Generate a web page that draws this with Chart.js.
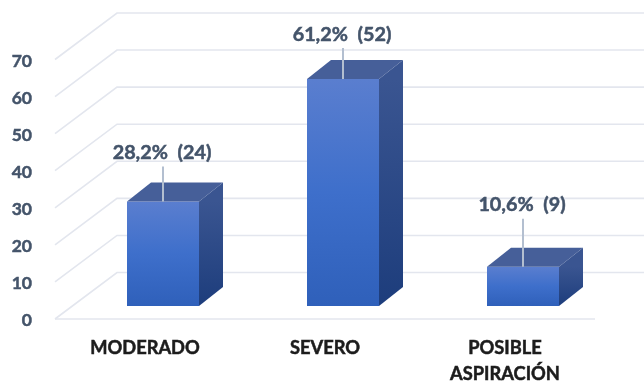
<!DOCTYPE html>
<html>
<head>
<meta charset="utf-8">
<style>
  html, body { margin: 0; padding: 0; background: #fff; }
  /* the source picture is a soft scan */
  canvas { display: block; filter: blur(0.45px); }
</style>
<script src="https://cdn.jsdelivr.net/npm/chart.js@4/dist/chart.umd.min.js"></script>
</head>
<body>
<canvas id="myChart" width="644" height="382"></canvas>
<script>
const categories = ['MODERADO', 'SEVERO', ['POSIBLE', 'ASPIRACIÓN']];
const percentages = [28.2, 61.2, 10.6];
const counts = [24, 52, 9];
const tickStep = 10;
const axisMax = 70;

// how far each label sits above its bar
const labelLift = [51, 47, 64];

const slate = '#44546a';
const gridColor = '#e3e6ee';

// 3d look: floor depth, bar offset on the floor, bar depth
const floor = { dx: 62, dy: -46.5 };
const barShift = { dx: 18, dy: -13 };
const barDepth = { dx: 24, dy: -19 };

function gradient(ctx, x0, y0, x1, y1, stops) {
	const g = ctx.createLinearGradient(x0, y0, x1, y1);
	stops.forEach((c, i) => g.addColorStop(i / (stops.length - 1), c));
	return g;
}

function face(ctx, points, fill) {
	ctx.beginPath();
	points.forEach((p, i) => i ? ctx.lineTo(p[0], p[1]) : ctx.moveTo(p[0], p[1]));
	ctx.closePath();
	ctx.fillStyle = fill;
	ctx.fill();
}

const walls = {
	id: 'walls',
	beforeDatasetsDraw(chart) {
		const { ctx, chartArea, scales: { y } } = chart;
		ctx.save();
		ctx.strokeStyle = gridColor;
		ctx.lineWidth = 1.6;
		y.ticks.forEach(t => {
			const py = y.getPixelForValue(t.value);
			ctx.beginPath();
			ctx.moveTo(chartArea.left, py);
			ctx.lineTo(chartArea.left + floor.dx, py + floor.dy);
			ctx.lineTo(chartArea.right + floor.dx, py + floor.dy);
			ctx.stroke();
		});
		const py0 = y.getPixelForValue(0);
		ctx.beginPath();
		ctx.moveTo(chartArea.left, py0);
		ctx.lineTo(chartArea.right, py0);
		ctx.stroke();
		ctx.restore();

		// the bars stand back from the front edge of the floor
		ctx.save();
		ctx.translate(barShift.dx, barShift.dy);
	},
	afterDatasetsDraw(chart) {
		const { ctx } = chart;
		const bars = chart.getDatasetMeta(0).data;

		bars.forEach(bar => {
			const { x, y, base, width } = bar.getProps(['x', 'y', 'base', 'width']);
			const l = x - width / 2;
			const r = x + width / 2;
			const d = barDepth;
			face(ctx, [[l, y], [l + d.dx, y + d.dy], [r + d.dx, y + d.dy], [r, y]], '#465f99');
			face(ctx, [[r, y], [r + d.dx, y + d.dy], [r + d.dx, base + d.dy], [r, base]],
				gradient(ctx, 0, y, 0, base, ['#3a5591', '#1d3d7c']));
		});
		ctx.restore();

		// leader lines and labels
		bars.forEach((bar, i) => {
			const { x, y } = bar.getProps(['x', 'y']);
			const px = x + barShift.dx;
			const top = y + barShift.dy;
			ctx.save();
			ctx.strokeStyle = '#b3bfd0';
			ctx.lineWidth = 2;
			ctx.beginPath();
			ctx.moveTo(px, top);
			ctx.lineTo(px, top - labelLift[i] + 16);
			ctx.stroke();
			ctx.fillStyle = slate;
			ctx.strokeStyle = slate;
			ctx.lineWidth = 0.5;
			ctx.font = 'bold 19.8px Lato, Carlito, sans-serif';
			ctx.textAlign = 'center';
			ctx.textBaseline = 'middle';
			const text = percentages[i].toFixed(1).replace('.', ',') + '%  (' + counts[i] + ')';
			ctx.fillText(text, px - 1, top - labelLift[i] + 2);
			ctx.strokeText(text, px - 1, top - labelLift[i] + 2);
			ctx.restore();
		});
	}
};

new Chart(document.getElementById('myChart').getContext('2d'), {
	type: 'bar',
	data: {
		labels: categories,
		datasets: [{
			data: percentages,
			barPercentage: 0.4,
			categoryPercentage: 1,
			clip: false,
			borderWidth: 0,
			backgroundColor(c) {
				const chart = c.chart;
				if (!chart.chartArea || c.parsed === undefined) return '#3d6fcb';
				const y = chart.scales.y;
				return gradient(chart.ctx, 0, y.getPixelForValue(c.parsed.y), 0, y.getPixelForValue(0),
					['#5a7ecf', '#3e6fcb', '#2f60ba']);
			}
		}]
	},
	options: {
		responsive: false,
		animation: false,
		layout: { padding: { top: 59.5, right: 49, left: 0, bottom: 0 } },
		plugins: { legend: { display: false }, tooltip: { enabled: false } },
		scales: {
			x: {
				grid: { display: false },
				border: { display: false },
				afterFit(scale) { scale.height = 63; },
				ticks: {
					color: '#1c1c1c',
					textStrokeColor: '#1c1c1c',
					textStrokeWidth: 0.5,
					padding: 8,
					maxRotation: 0,
					autoSkip: false,
					font: { family: 'Lato, Carlito, sans-serif', size: 18.3, weight: 'bold', lineHeight: 1.44 }
				}
			},
			y: {
				min: 0,
				max: axisMax,
				grid: { display: false },
				border: { display: false },
				afterFit(scale) { scale.width = 55; },
				ticks: {
					stepSize: tickStep,
					color: slate,
					textStrokeColor: slate,
					textStrokeWidth: 0.5,
					padding: 15,
					labelOffset: 1.5,
					font: { family: 'Lato, Carlito, sans-serif', size: 17.5, weight: 'bold' }
				}
			}
		}
	},
	plugins: [walls]
});
</script>
</body>
</html>
